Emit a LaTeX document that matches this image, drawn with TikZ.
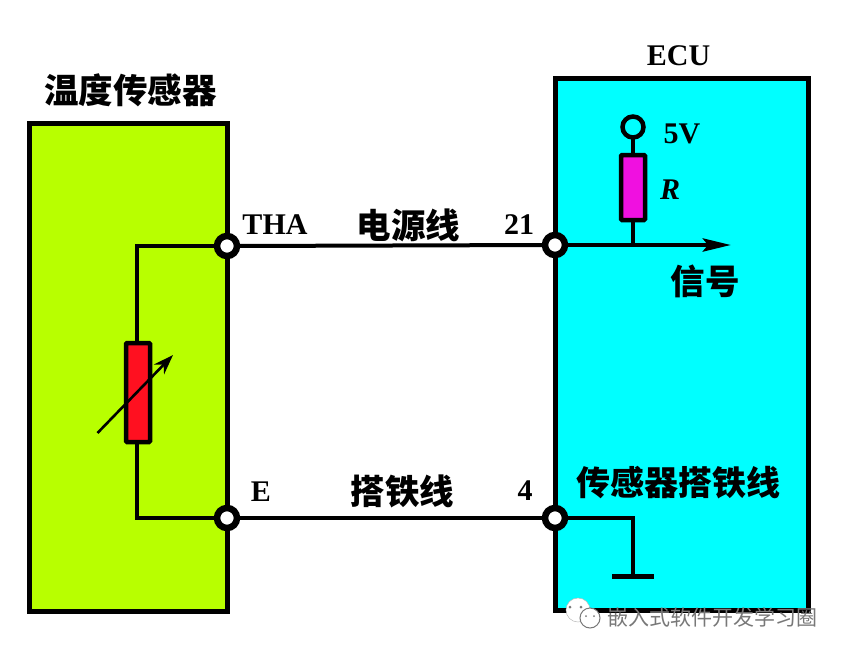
\documentclass[tikz,border=0pt]{standalone}
\usepackage{fontspec}
\setmainfont{Liberation Serif}
\newfontfamily\cjk{Noto Sans CJK SC}
\usetikzlibrary{arrows.meta}
\definecolor{limeg}{RGB}{184,255,0}
\definecolor{cyanb}{RGB}{0,255,255}
\definecolor{resred}{RGB}{255,16,32}
\definecolor{resmag}{RGB}{240,16,224}
\definecolor{wmgrey}{RGB}{120,120,120}
\tikzset{
  every node/.append style={outer sep=0pt},
  wire/.style={draw=black,line width=4.5pt},
  box/.style={draw=black,line width=5pt,inner sep=0pt,anchor=north west,line join=miter},
  term/.style={circle,draw=black,fill=white,line width=6.5pt,minimum size=20pt,inner sep=0pt},
  res/.style={draw=black,line width=4.5pt,inner sep=0pt,rounded corners=1pt},
  lat/.style={font=\fontsize{30}{30}\selectfont\bfseries,text=black,inner sep=0pt},
  cn/.style={font=\cjk\fontsize{34.5}{34.5}\selectfont\bfseries,text=black,inner sep=0pt},
}
\begin{document}
\begin{tikzpicture}[x=1pt,y=-1pt]
\useasboundingbox (0,0) rectangle (844,654);
\fill[white] (0,0) rectangle (844,654);
% boxes
\node[box,fill=limeg,minimum width=198pt,minimum height=488pt] (sensor) at (29,123) {};
\node[box,fill=cyanb,minimum width=253pt,minimum height=532pt] (ecu) at (555.5,78) {};
% coordinates
\coordinate (tj) at (137,246);
\coordinate (ej) at (137,518);
\node[res,fill=resred,minimum width=24pt,minimum height=99pt] (rt) at (138,392.5) {};
\draw[wire] (227,246) -- (tj) -- (rt.north -| tj);
\draw[wire] (227,518) -- (ej) -- (rt.south -| ej);
\node[term] (tha) at (227,246) {};
\node[term] (e) at (227,518) {};
\node[term] (p21) at (555,245) {};
\node[term] (p4) at (555,518) {};
\draw[wire,line width=4pt] (tha.east) -- (p21.west);
\draw[wire,line width=4pt] (e.east) -- (p4.west);
\coordinate (va) at (97.5,433);
\coordinate (vb) at (173,355);
\draw[line width=2.6pt,-{Stealth[length=20pt,width=14pt]}] (va) -- (vb);
% ECU internals
\node[circle,draw=black,fill=cyanb,line width=4.5pt,minimum size=21pt,inner sep=0pt] (vcc) at (633,127) {};
\node[res,fill=resmag,minimum width=24pt,minimum height=65pt] (r) at (633,187.5) {};
\coordinate (sj) at (633,245);
\coordinate (send) at (731,245);
\draw[wire] (vcc.south) -- (r.north);
\draw[wire] (r.south) -- (sj);
\draw[wire,-{Stealth[length=28pt,width=13pt,inset=5pt]}] (p21.east) -- (send);
\coordinate (gc) at (633,518);
\coordinate (gb) at (633,576);
\coordinate (gl) at (612,576);
\coordinate (gr) at (654,576);
\draw[wire,line join=miter] (p4.east) -- (gc) -- (gb);
\draw[line width=5pt] (gl) -- (gr);
% labels
\node[cn] (tsensor) at (130.5,90) {温度传感器};
\node[lat] (lecu) at (678.5,56) {ECU};
\node[lat] (ltha) at (275,225) {THA};
\node[cn] (lpow) at (408.5,225) {电源线};
\node[lat] (l21) at (519,225) {21};
\node[lat] (l5v) at (682,134) {5V};
\node[lat,font=\fontsize{30}{30}\selectfont\itshape\bfseries] (lr) at (670,190) {R};
\node[cn] (lsig) at (705,281) {信号};
\node[lat] (le) at (261,492) {E};
\node[cn] (lgnd) at (402.5,491) {搭铁线};
\node[lat] (l4) at (525,491) {4};
\node[cn,font=\cjk\fontsize{34}{34}\selectfont\bfseries] (lsg) at (678,483) {传感器搭铁线};
% watermark
\node[circle,fill=white,draw=wmgrey!50,line width=.5pt,minimum size=24pt,inner sep=0pt] (wa) at (578,610) {};
\fill[wmgrey] (570,607) circle (1.5pt) (581,607) circle (1.5pt);
\node[circle,fill=white,draw=wmgrey,line width=1pt,minimum size=20pt,inner sep=0pt] (wb) at (590,618) {};
\fill[wmgrey] (586,616) circle (1pt) (594,616) circle (1pt);
\node[font=\cjk\fontsize{21}{21}\selectfont,text=wmgrey,inner sep=0pt] (wm) at (712,617) {嵌入式软件开发学习圈};
\end{tikzpicture}
\end{document}
